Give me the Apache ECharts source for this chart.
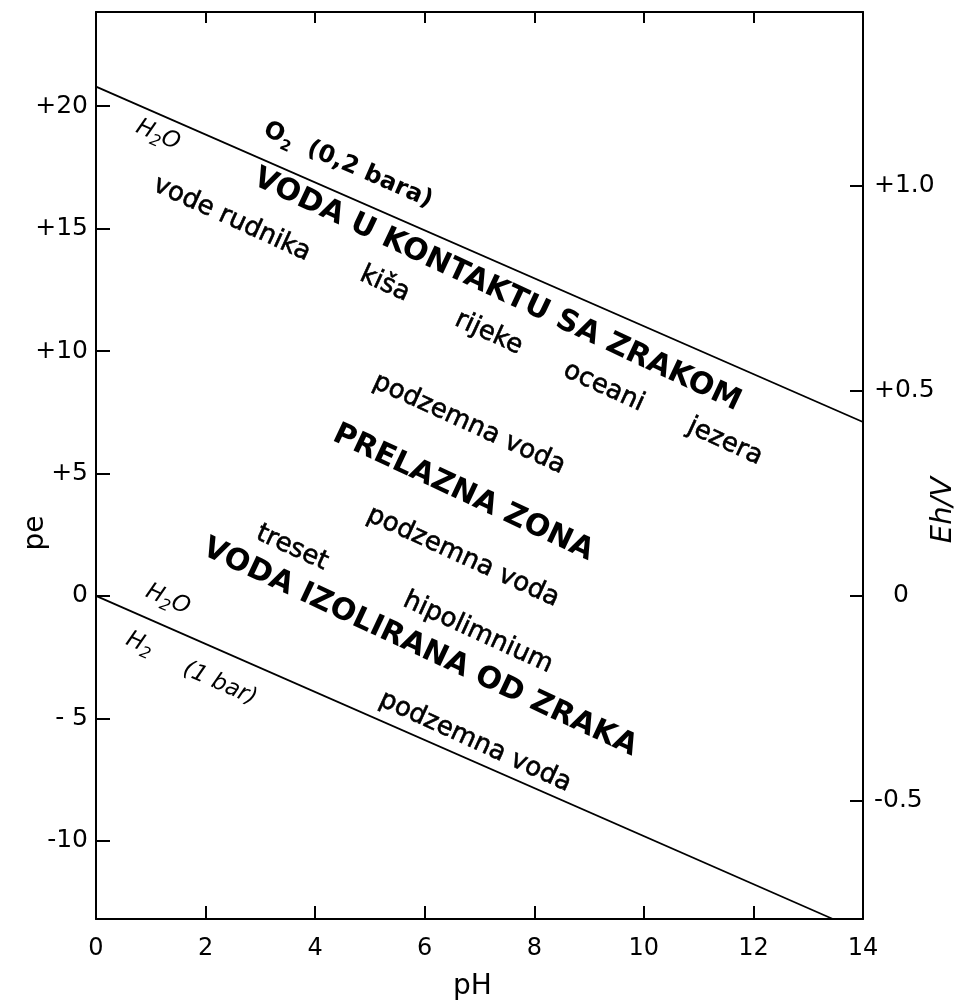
<!DOCTYPE html>
<html>
<head>
<meta charset="utf-8">
<title>pe–pH</title>
<script src="https://cdn.jsdelivr.net/npm/echarts@6/dist/echarts.min.js"></script>
<style>
  html, body { margin: 0; padding: 0; background: #fff; }
  #chart { width: 959px; height: 1006px; }
</style>
</head>
<body>
<div id="chart"></div>
<script>
// pe–pH stability field of water, with the equivalent Eh scale on the right
const FONT = 'DejaVu Sans';

const PH_RANGE = [0, 14];
const PE_RANGE = [-13.2, 23.85];
const EH_PER_PE = 0.0597;

const PE_TICKS = [-10, -5, 0, 5, 10, 15, 20];
const PE_TICK_LABELS = ['-10', '- 5', '0', '+5', '+10', '+15', '+20'];
const EH_TICKS = [-0.5, 0, 0.5, 1.0];
const EH_TICK_LABELS = ['-0.5', '0', '+0.5', '+1.0'];

// upper boundary: O2 (0,2 bar) / H2O
const O2_LINE_PH = [0, 14];
const O2_LINE_PE = [20.8, 7.1];
// lower boundary: H2O / H2 (1 bar)
const H2_LINE_PH = [0, 13.45];
const H2_LINE_PE = [0, -13.2];

// species names along the two boundaries
const SPECIES_LABELS = ['H₂O', 'H₂O', 'H₂', '(1 bar)'];
const SPECIES_PH = [1.13, 1.31, 0.80, 2.26];
const SPECIES_PE = [18.82, -0.16, -1.96, -3.59];

const OXYGEN_LABELS = ['O₂  (0,2 bara)'];
const OXYGEN_PH = [4.60];
const OXYGEN_PE = [17.59];

// redox zones
const ZONE_LABELS = ['VODA U KONTAKTU SA ZRAKOM', 'PRELAZNA ZONA', 'VODA IZOLIRANA OD ZRAKA'];
const ZONE_PH = [7.32, 6.70, 5.91];
const ZONE_PE = [12.49, 4.20, -2.12];

// natural waters
const WATER_LABELS = ['vode rudnika', 'kiša', 'rijeke', 'oceani', 'jezera',
  'podzemna voda', 'podzemna voda', 'treset', 'hipolimnium', 'podzemna voda'];
const WATER_PH = [2.48, 5.27, 7.17, 9.27, 11.48, 6.81, 6.70, 3.58, 6.97, 6.92];
const WATER_PE = [15.39, 12.73, 10.73, 8.53, 6.29, 7.02, 1.59, 1.96, -1.51, -5.96];

const BLACK = '#000';

function pairs(xs, ys) {
  return xs.map((x, i) => [x, ys[i]]);
}

// turn "H₂O" into rich-text tokens so the subscript gets its own size and drop
function richMarkup(text) {
  return text.split('₂').map(s => (s ? '{n|' + s + '}' : '')).join('{s|2}');
}

function richStyles(base, size, subSize) {
  return {
    n: Object.assign({ fontSize: size, lineHeight: Math.round(size * 1.3), fill: BLACK, fontFamily: FONT }, base),
    s: Object.assign({ fontSize: subSize, lineHeight: subSize, verticalAlign: 'bottom', fill: BLACK, fontFamily: FONT }, base)
  };
}

// text placed at (pH, pe), turned to follow the slope of the O2 boundary
function labelSeries(texts, phs, pes, style, tiltDeg, rich) {
  return {
    type: 'custom',
    coordinateSystem: 'cartesian2d',
    xAxisIndex: 0,
    yAxisIndex: 0,
    silent: true,
    clip: false,
    data: pairs(phs, pes),
    renderItem: function (params, api) {
      const p = api.coord([api.value(0), api.value(1)]);
      const a = api.coord([O2_LINE_PH[0], O2_LINE_PE[0]]);
      const b = api.coord([O2_LINE_PH[1], O2_LINE_PE[1]]);
      const ang = Math.atan2(b[1] - a[1], b[0] - a[0]) + tiltDeg * Math.PI / 180;
      const raw = texts[params.dataIndex];
      return {
        type: 'text',
        x: p[0],
        y: p[1],
        rotation: -ang,
        style: Object.assign({
          text: rich ? richMarkup(raw) : raw,
          rich: rich || undefined,
          align: 'center',
          verticalAlign: 'middle',
          fill: BLACK,
          fontFamily: FONT
        }, style)
      };
    }
  };
}

function boundary(phs, pes) {
  return {
    type: 'line',
    xAxisIndex: 0,
    yAxisIndex: 0,
    data: pairs(phs, pes),
    symbol: 'none',
    showSymbol: false,
    silent: true,
    lineStyle: { color: BLACK, width: 1.8 }
  };
}

const axisLine = { show: true, onZero: false, lineStyle: { color: BLACK, width: 2 } };
const tickLine = { color: BLACK, width: 2 };

const chart = echarts.init(document.getElementById('chart'), null, { renderer: 'canvas' });

chart.setOption({
  animation: false,
  backgroundColor: '#fff',
  grid: { left: 96, right: 96, top: 12, bottom: 86, containLabel: false },
  xAxis: [
    {
      type: 'value',
      position: 'bottom',
      min: PH_RANGE[0],
      max: PH_RANGE[1],
      interval: 2,
      axisLine: axisLine,
      axisTick: { inside: true, length: 13, lineStyle: tickLine },
      axisLabel: { color: BLACK, fontFamily: FONT, fontSize: 24, margin: 18 },
      splitLine: { show: false },
      name: 'pH',
      nameLocation: 'middle',
      nameGap: 54,
      nameTextStyle: { color: BLACK, fontFamily: FONT, fontSize: 28, padding: [0, 14, 0, 0] }
    },
    {
      type: 'value',
      position: 'top',
      min: PH_RANGE[0],
      max: PH_RANGE[1],
      interval: 2,
      axisLine: axisLine,
      axisTick: { inside: true, length: 11, lineStyle: tickLine },
      axisLabel: { show: false },
      splitLine: { show: false }
    }
  ],
  yAxis: [
    {
      type: 'value',
      position: 'left',
      min: PE_RANGE[0],
      max: PE_RANGE[1],
      axisLine: axisLine,
      axisTick: { inside: true, length: 14, customValues: PE_TICKS, lineStyle: tickLine },
      axisLabel: {
        customValues: PE_TICKS,
        color: BLACK, fontFamily: FONT, fontSize: 25, margin: 8,
        formatter: v => PE_TICK_LABELS[PE_TICKS.indexOf(v)]
      },
      splitLine: { show: false }
    },
    {
      type: 'value',
      position: 'right',
      min: PE_RANGE[0] * EH_PER_PE,
      max: PE_RANGE[1] * EH_PER_PE,
      axisLine: axisLine,
      axisTick: { inside: true, length: 13, customValues: EH_TICKS, lineStyle: tickLine },
      axisLabel: {
        customValues: EH_TICKS,
        color: BLACK, fontFamily: FONT, fontSize: 25, margin: 11,
        formatter: v => {
          const s = EH_TICK_LABELS[EH_TICKS.indexOf(v)];
          return v === 0 ? '{z|' + s + '}' : s;
        },
        rich: {
          z: { color: BLACK, fontFamily: FONT, fontSize: 25, padding: [0, 0, 0, 19] }
        }
      },
      splitLine: { show: false }
    }
  ],
  graphic: [
    {
      type: 'text', x: 36, y: 533, rotation: Math.PI / 2, silent: true,
      style: { text: 'pe', fill: BLACK, fontFamily: FONT, fontSize: 28, align: 'center', verticalAlign: 'middle' }
    },
    {
      type: 'text', x: 943, y: 510, rotation: Math.PI / 2, silent: true,
      style: { text: 'Eh/V', fill: BLACK, fontFamily: FONT, fontSize: 29, fontStyle: 'italic', align: 'center', verticalAlign: 'middle' }
    }
  ],
  series: [
    boundary(O2_LINE_PH, O2_LINE_PE),
    boundary(H2_LINE_PH, H2_LINE_PE),
    labelSeries(SPECIES_LABELS, SPECIES_PH, SPECIES_PE, {}, 0,
      richStyles({ fontStyle: 'italic' }, 23, 16)),
    labelSeries(OXYGEN_LABELS, OXYGEN_PH, OXYGEN_PE, {}, 0,
      richStyles({ fontWeight: 'bold' }, 24, 15)),
    labelSeries(ZONE_LABELS, ZONE_PH, ZONE_PE,
      { fontSize: 30, fontWeight: 'bold' }, 1.5, null),
    labelSeries(WATER_LABELS, WATER_PH, WATER_PE,
      { fontSize: 26, stroke: BLACK, lineWidth: 0.6 }, 1, null)
  ]
});
</script>
</body>
</html>
